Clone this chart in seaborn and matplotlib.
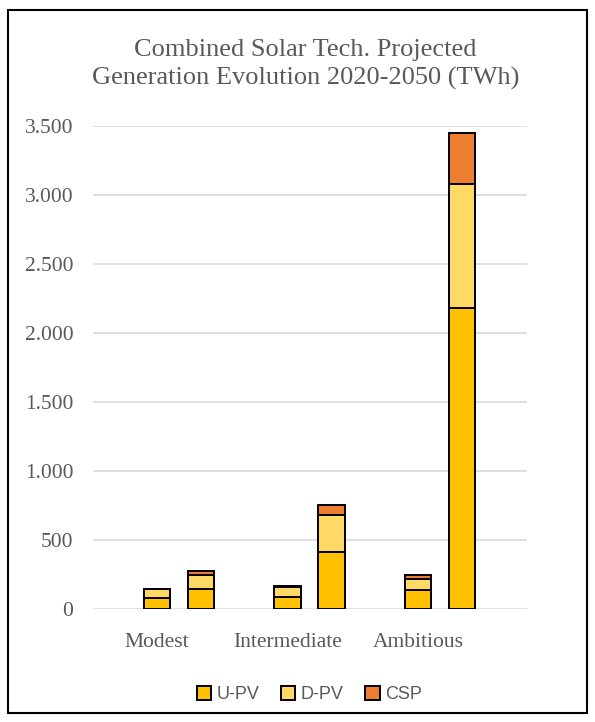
"""Combined solar tech projected generation, stacked bars per scenario and year."""
import matplotlib
matplotlib.use("Agg")
import matplotlib.pyplot as plt
from matplotlib.patches import Patch, Rectangle
from matplotlib.ticker import FuncFormatter
import pandas as pd
import seaborn as sns

scenarios = ["Modest", "Intermediate", "Ambitious"]
years = ["2020", "2030", "2050"]  # the 2020 slot stays empty in the source chart
techs = ["U-PV", "D-PV", "CSP"]
colors = ["#FFC000", "#FFD966", "#ED7D31"]

upv_2030 = [78, 87, 138]
dpv_2030 = [64, 72, 80]
csp_2030 = [3, 6, 29]
upv_2050 = [145, 414, 2180]
dpv_2050 = [100, 269, 900]
csp_2050 = [30, 72, 370]

rows = []
for year, upv, dpv, csp in [("2030", upv_2030, dpv_2030, csp_2030),
                            ("2050", upv_2050, dpv_2050, csp_2050)]:
    for s, u, d, c in zip(scenarios, upv, dpv, csp):
        rows.append({"scenario": s, "year": year, "U-PV": u, "D-PV": d, "CSP": c})
df = pd.DataFrame(rows)
df["top_upv"] = df["U-PV"]
df["top_dpv"] = df["U-PV"] + df["D-PV"]
df["top_csp"] = df["top_dpv"] + df["CSP"]

sns.set_style("white")
grey = "#595959"
serif = ["Liberation Serif", "DejaVu Serif"]

fig = plt.figure(figsize=(5.95, 7.22), dpi=100)
ax = fig.add_axes([0.156, 0.1565, 0.73, 0.669])

# stack drawn as overlapping totals, tallest first
for col, color in zip(["top_csp", "top_dpv", "top_upv"], colors[::-1]):
    sns.barplot(data=df, x="scenario", y=col, hue="year", order=scenarios,
                hue_order=years, palette={y: color for y in years}, saturation=1,
                width=1.01, gap=0.406, edgecolor="black", linewidth=1.4,
                legend=False, ax=ax, zorder=3)

ax.set_ylim(0, 3500)
ax.set_xlim(-0.49, 2.835)
ax.set_yticks(range(0, 3501, 500))
ax.yaxis.set_major_formatter(FuncFormatter(lambda v, _: f"{int(v):,}".replace(",", ".")))
ax.grid(axis="y", color="#D9D9D9", linewidth=1.2, zorder=0)
ax.set_axisbelow(True)
for side in ["top", "right", "left", "bottom"]:
    ax.spines[side].set_visible(False)
ax.tick_params(axis="both", length=0, labelcolor=grey, labelsize=15.5)
ax.tick_params(axis="y", pad=14)
ax.tick_params(axis="x", pad=17)
for lab in ax.get_xticklabels() + ax.get_yticklabels():
    lab.set_fontfamily(serif)
ax.set_xlabel("")
ax.set_ylabel("")

fig.text(0.513, 0.911, "Combined Solar Tech. Projected\nGeneration Evolution 2020-2050 (TWh)",
         ha="center", va="center", fontsize=19, color=grey, family=serif, linespacing=1.35)

handles = [Patch(facecolor=c, edgecolor="black", linewidth=1.4, label=t) for t, c in zip(techs, colors)]
fig.legend(handles=handles, loc="center", bbox_to_anchor=(0.52, 0.038), ncol=3, frameon=False,
           handlelength=0.8, handleheight=0.8, handletextpad=0.3, columnspacing=1.2,
           prop={"family": "Liberation Sans", "size": 13}, labelcolor=grey)

fig.patches.append(Rectangle((0.0134, 0.0125), 0.9732, 0.9735, transform=fig.transFigure,
                             fill=False, edgecolor="black", linewidth=1.5))

fig.savefig("out.png", dpi=100)
